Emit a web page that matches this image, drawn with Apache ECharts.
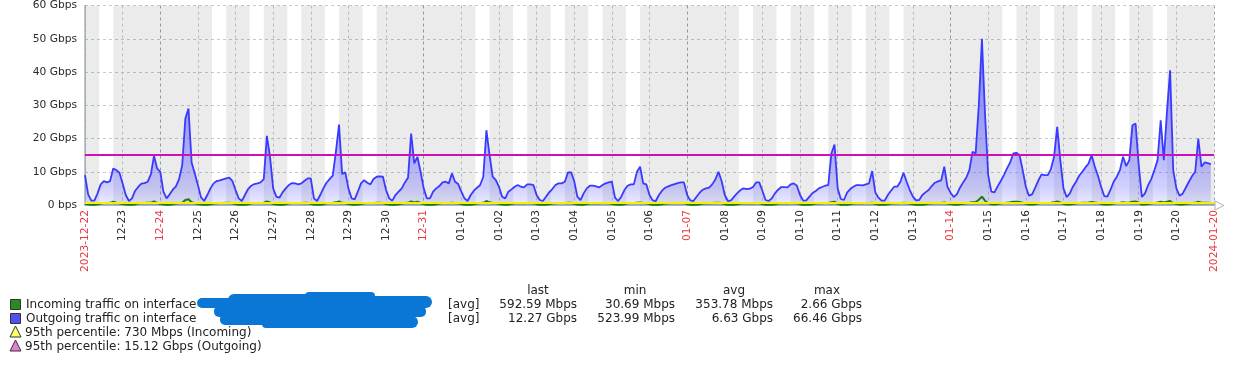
<!DOCTYPE html>
<html><head><meta charset="utf-8">
<script src="https://cdn.jsdelivr.net/npm/echarts@6/dist/echarts.min.js"></script>
<style>html,body{margin:0;padding:0;background:#fff;}#c{width:1245px;height:365px;}</style>
</head><body><div id="c"></div>
<script>
// ---- data ----
const dayLabels = ['2023-12-22','12-23','12-24','12-25','12-26','12-27','12-28','12-29','12-30','12-31',
  '01-01','01-02','01-03','01-04','01-05','01-06','01-07','01-08','01-09','01-10',
  '01-11','01-12','01-13','01-14','01-15','01-16','01-17','01-18','01-19','01-20','2024-01-20'];
const redLabels = ['2023-12-22','12-24','12-31','01-07','01-14','2024-01-20'];
const yTickLabels = ['0 bps','10 Gbps','20 Gbps','30 Gbps','40 Gbps','50 Gbps','60 Gbps'];
const sampleStepHours = 2;
const firstWeekday = 5;            // 2023-12-22 is a Friday
const workWeekdays = [1,2,3,4,5];
const workHours = [9,18];
const p95Incoming = 0.73;          // Gbps
const p95Outgoing = 15.12;         // Gbps

// Outgoing traffic, Gbps, every 2 h (12 per day)
const outgoingGbps = [
 9,3.2,1.3,1.3,3.5,6.2,7.2,6.8,7.2,11,10.5,9.7,
 6.5,3,1.2,2,4.3,5.5,6.4,6.6,7,9.2,14.8,11,
 10,4,2,3.2,4.6,5.6,7.8,12,26,29,12.8,9.5,
 6,2.3,1.2,3,5,6.5,7.2,7.4,7.7,8,8.2,7.2,
 4.5,2,1.2,3,4.8,5.8,6.3,6.5,6.8,7.8,20.8,14.5,
 5,2.5,2.2,3.8,5,6,6.6,6.5,6.2,6.5,7.3,8,
 8,2,1.2,3,5,6.7,7.8,8.8,16,24.2,9.3,9.8,
 5,2,1.7,4,6.5,7.5,6.7,6.2,7.8,8.5,8.6,8.5,
 4.5,2,1.3,3,4,5,6.8,8.2,21.5,12.5,14.5,10,
 5,2,2,4,5,5.7,6.8,7,6.5,9.5,7,6.3,
 4,2,1.2,3,4.3,5.2,6,8.5,22.5,15,8.5,7.5,
 5.5,2.5,2,4,4.7,5.5,6,5.5,5.3,6.2,6.2,6,
 3,1.5,1.2,2.5,3.8,4.8,6,6.5,6.5,7,9.8,9.8,
 7.2,2.5,1.5,3.5,5,5.8,5.8,5.6,5.3,6,6.5,6.8,
 7,2.2,1.2,2.5,4.5,5.8,6.2,6.2,10,11.5,6.5,6.2,
 3,1.4,1.2,3,4.3,5.2,5.6,6,6.3,6.6,6.8,6.8,
 3,1.4,1.2,2.5,3.7,4.6,5,5.2,6.2,7.7,10,7.2,
 3,1.2,1.4,2.5,3.6,4.5,5,4.8,4.9,5.4,6.8,6.8,
 4.3,1.5,1.2,2,3.5,4.6,5.4,5.4,5.3,6.2,6.5,5.8,
 3,1.3,1.4,2.5,3.6,4.2,5,5.4,5.8,6,15.5,18.2,
 5,1.8,1.5,3.7,4.8,5.5,6,6,5.9,6.2,6.5,10.2,
 3.8,2.2,1.3,1.3,3,4.3,5.5,5.5,7,9.7,7,4.5,
 2.5,1.4,1.5,3,3.8,4.5,5.7,6.7,7.1,7.4,11.5,5.5,
 3.7,2.4,3.2,5.2,6.8,8.2,10.5,16,15.5,30,50,27,
 9,4,3.8,5.6,7.2,9,11,12.8,15.5,15.7,15,10.5,
 5.5,2.8,3.2,5.2,7.4,9.2,9,9,10.8,14.5,23.5,13.5,
 5,2.4,3.4,5.5,7,8.8,10,11.3,12.5,15,11.5,8.8,
 5.5,2.7,2.5,4.6,7,8.5,10.5,14.5,11.7,13.5,24,24.5,
 12,2.4,3.5,6,7.8,10.5,13.5,25.5,13.5,28,40.5,10.5,
 5,2.8,3.4,5.2,7,8.7,10,20,11.5,12.8,12.6,12.3
];

// Incoming traffic, Gbps, every 2 h (12 per day)
const incomingGbps = [
 0.4,0.15,0.1,0.08,0.2,0.45,0.58,0.6,0.65,1.0,0.7,0.55,
 0.3,0.12,0.08,0.1,0.25,0.5,0.6,0.62,0.66,0.7,1.05,0.6,
 0.35,0.14,0.09,0.1,0.22,0.48,0.6,0.7,1.5,1.7,0.8,0.6,
 0.3,0.12,0.07,0.08,0.2,0.45,0.55,0.6,0.62,0.64,0.66,0.55,
 0.3,0.1,0.07,0.1,0.24,0.5,0.58,0.6,0.63,0.68,1.1,0.75,
 0.32,0.12,0.08,0.1,0.25,0.5,0.6,0.6,0.58,0.62,0.66,0.64,
 0.4,0.12,0.07,0.1,0.25,0.52,0.6,0.65,0.8,1.1,0.66,0.62,
 0.32,0.11,0.07,0.12,0.3,0.55,0.6,0.58,0.62,0.66,0.66,0.6,
 0.3,0.11,0.06,0.09,0.2,0.45,0.58,0.65,1.1,0.75,1.0,0.62,
 0.3,0.1,0.07,0.1,0.24,0.48,0.58,0.6,0.6,0.7,0.6,0.5,
 0.28,0.1,0.06,0.09,0.22,0.48,0.58,0.66,1.2,0.8,0.62,0.58,
 0.35,0.12,0.08,0.11,0.26,0.5,0.56,0.55,0.55,0.6,0.6,0.56,
 0.25,0.09,0.05,0.08,0.2,0.45,0.56,0.6,0.6,0.62,0.7,0.68,
 0.4,0.12,0.07,0.1,0.26,0.5,0.55,0.55,0.54,0.58,0.6,0.62,
 0.4,0.12,0.06,0.09,0.24,0.5,0.58,0.58,0.7,0.75,0.6,0.56,
 0.25,0.09,0.05,0.09,0.22,0.46,0.55,0.58,0.58,0.6,0.62,0.6,
 0.25,0.09,0.04,0.08,0.2,0.44,0.52,0.54,0.58,0.64,0.7,0.6,
 0.25,0.08,0.05,0.09,0.22,0.45,0.52,0.5,0.52,0.55,0.62,0.6,
 0.3,0.1,0.05,0.08,0.2,0.45,0.54,0.54,0.53,0.6,0.6,0.56,
 0.25,0.09,0.05,0.09,0.22,0.44,0.52,0.55,0.57,0.6,0.85,1.0,
 0.35,0.1,0.06,0.1,0.24,0.48,0.56,0.57,0.56,0.6,0.6,0.7,
 0.3,0.11,0.06,0.07,0.2,0.44,0.55,0.55,0.6,0.68,0.6,0.45,
 0.22,0.09,0.05,0.09,0.22,0.45,0.55,0.6,0.62,0.62,0.75,0.48,
 0.28,0.12,0.1,0.2,0.4,0.56,0.66,0.85,0.9,1.6,2.5,1.3,
 0.55,0.2,0.15,0.3,0.5,0.6,0.7,0.8,1.0,0.95,0.9,0.7,
 0.4,0.15,0.12,0.25,0.5,0.6,0.62,0.62,0.66,0.8,1.1,0.75,
 0.38,0.14,0.15,0.3,0.5,0.6,0.66,0.7,0.75,0.9,0.72,0.6,
 0.4,0.15,0.12,0.25,0.48,0.58,0.65,0.8,0.7,0.75,1.0,1.05,
 0.7,0.14,0.14,0.3,0.5,0.62,0.75,1.0,0.75,0.95,1.2,0.6,
 0.38,0.15,0.15,0.3,0.48,0.58,0.65,1.0,0.7,0.7,0.68,0.59
];

const legendHeader = ['last','min','avg','max'];
const legendRows = [
  {name:'Incoming traffic on interface', fn:'[avg]', stats:['592.59 Mbps','30.69 Mbps','353.78 Mbps','2.66 Gbps']},
  {name:'Outgoing traffic on interface', fn:'[avg]', stats:['12.27 Gbps','523.99 Mbps','6.63 Gbps','66.46 Gbps']}
];
const percentileLabels = ['95th percentile: 730 Mbps (Incoming)','95th percentile: 15.12 Gbps (Outgoing)'];

// ---- build ----
const FONT = '"DejaVu Sans", Verdana, sans-serif';
const totalHours = (dayLabels.length - 1) * 24;
const toPairs = arr => arr.map((v,i) => [i*sampleStepHours, v]);

const bands = [];
let cur = null;
for (let d = 0; d < dayLabels.length - 1; d++) {
  const wd = (firstWeekday + d) % 7;
  const segs = workWeekdays.includes(wd) ? [[0,workHours[0]],[workHours[1],24]] : [[0,24]];
  for (const [a,b] of segs) {
    const s = d*24 + a, e = d*24 + b;
    if (cur && cur[1] === s) cur[1] = e; else { if (cur) bands.push(cur); cur = [s,e]; }
  }
}
if (cur) bands.push(cur);

// Sunday grid lines darker (cycle of 7 starting Friday)
const splitColors = [];
for (let i = 0; i < 7; i++) splitColors.push(((firstWeekday + i) % 7) === 0 ? '#9aa6ad' : '#c4cdd2');

const chart = echarts.init(document.getElementById('c'), null, {renderer:'canvas'});

const txt = (text, x, y, align, extra) => ({
  type:'text', silent:true,
  style: Object.assign({text, x, y, font:'12px '+FONT, fill:'#222',
    align, textAlign:align, verticalAlign:'middle', textVerticalAlign:'middle'}, extra||{})
});

const graphics = [];
const headerX = [538, 635, 734, 827];
legendHeader.forEach((h,i) => graphics.push(txt(h, headerX[i], 291, 'center')));
const valueRight = [577, 675, 773, 862];
const rowY = [305, 319, 333, 347];
const swatch = ['#2a8a22', '#4f4ff2'];
legendRows.forEach((r,ri) => {
  graphics.push({type:'rect', silent:true, shape:{x:10.5, y:rowY[ri]-5.5, width:10, height:10},
    style:{fill:swatch[ri], stroke:'#333', lineWidth:1}});
  graphics.push(txt(r.name, 26, rowY[ri], 'left'));
  graphics.push(txt(r.fn, 448, rowY[ri], 'left'));
  r.stats.forEach((s,si) => graphics.push(txt(s, valueRight[si], rowY[ri], 'right')));
});
const triFill = ['#ffff66', '#e67ecf'];
percentileLabels.forEach((p,pi) => {
  const y = rowY[2+pi];
  graphics.push({type:'polygon', silent:true, shape:{points:[[15.5,y-7],[10,y+4],[21,y+4]]},
    style:{fill:triFill[pi], stroke:'#333', lineWidth:1}});
  graphics.push(txt(p, 25, y, 'left'));
});
// redaction scribble
const blob = '#0a77d6';
[
  {x:197, y:298, width:60, height:10, r:5},
  {x:228, y:294, width:120, height:13, r:6},
  {x:305, y:292, width:70, height:9, r:4},
  {x:330, y:296, width:102, height:12, r:6},
  {x:214, y:306, width:212, height:11, r:5},
  {x:220, y:314, width:115, height:11, r:5},
  {x:330, y:316, width:88, height:12, r:6},
  {x:262, y:320, width:150, height:8, r:4}
].forEach(b => graphics.push({type:'rect', silent:true, shape:{x:b.x, y:b.y, width:b.width, height:b.height, r:b.r},
  style:{fill:blob}}));
graphics.push({type:'polygon', silent:true, shape:{points:[[1215,201],[1224,205.5],[1215,210]]},
  style:{fill:'#fff', stroke:'#a9b4ba', lineWidth:1}});

const option = {
  animation:false,
  backgroundColor:'#fff',
  grid:{left:85, right:31, top:4, bottom:160, containLabel:false},
  xAxis:{
    type:'value', min:0, max:totalHours, interval:24,
    axisLine:{show:true, onZero:false, lineStyle:{color:'#a9b4ba', width:2}},
    axisTick:{show:false},
    splitLine:{show:true, lineStyle:{color:splitColors, type:[3,3], width:1}},
    axisLabel:{
      rotate:90, margin:5, showMinLabel:true, showMaxLabel:true, hideOverlap:false,
      fontFamily:FONT, fontSize:10.67,
      formatter: v => {
        const s = dayLabels[Math.round(v/24)] || '';
        return (redLabels.includes(s) ? '{r|' : '{n|') + s + '}';
      },
      rich:{
        r:{color:'#e8383d', fontFamily:FONT, fontSize:10.67},
        n:{color:'#2b2b2b', fontFamily:FONT, fontSize:10.67}
      }
    }
  },
  yAxis:{
    type:'value', min:0, max:60, interval:10,
    axisLine:{show:true, lineStyle:{color:'#a9b4ba', width:1.5}},
    axisTick:{show:false},
    splitLine:{show:true, lineStyle:{color:'#c4cdd2', type:[3,3], width:1}},
    axisLabel:{margin:8, color:'#2b2b2b', fontFamily:FONT, fontSize:10.67,
      formatter: v => yTickLabels[Math.round(v/10)]}
  },
  series:[
    {
      type:'line', name:'bands', data:[], z:1, silent:true,
      markArea:{silent:true, itemStyle:{color:'rgba(0,0,0,0.08)'},
        data: bands.map(([a,b]) => [{xAxis:a},{xAxis:b}])}
    },
    {
      type:'line', name:'Outgoing', data:toPairs(outgoingGbps), symbol:'none', z:3,
      lineStyle:{color:'#3a3aff', width:1.8},
      areaStyle:{color:{type:'linear', x:0, y:38, x2:0, y2:205, global:true,
        colorStops:[
          {offset:0, color:'rgba(50,50,255,0.85)'},
          {offset:0.45, color:'rgba(60,60,255,0.65)'},
          {offset:0.75, color:'rgba(70,70,255,0.5)'},
          {offset:0.9, color:'rgba(80,80,255,0.37)'},
          {offset:1, color:'rgba(100,100,255,0.18)'}
        ]}},
      markLine:{silent:true, symbol:['none','none'], label:{show:false},
        lineStyle:{color:'#cc11bb', width:2, type:'solid'},
        data:[{yAxis:p95Outgoing}]}
    },
    {
      type:'line', name:'Incoming', data:toPairs(incomingGbps), symbol:'none', z:4,
      lineStyle:{color:'#1a7c11', width:2},
      markLine:{silent:true, symbol:['none','none'], label:{show:false},
        lineStyle:{color:'#f2f200', width:2, type:'solid'},
        data:[{yAxis:p95Incoming}]}
    }
  ],
  graphic:{elements:graphics}
};
chart.setOption(option);
</script>
</body></html>
